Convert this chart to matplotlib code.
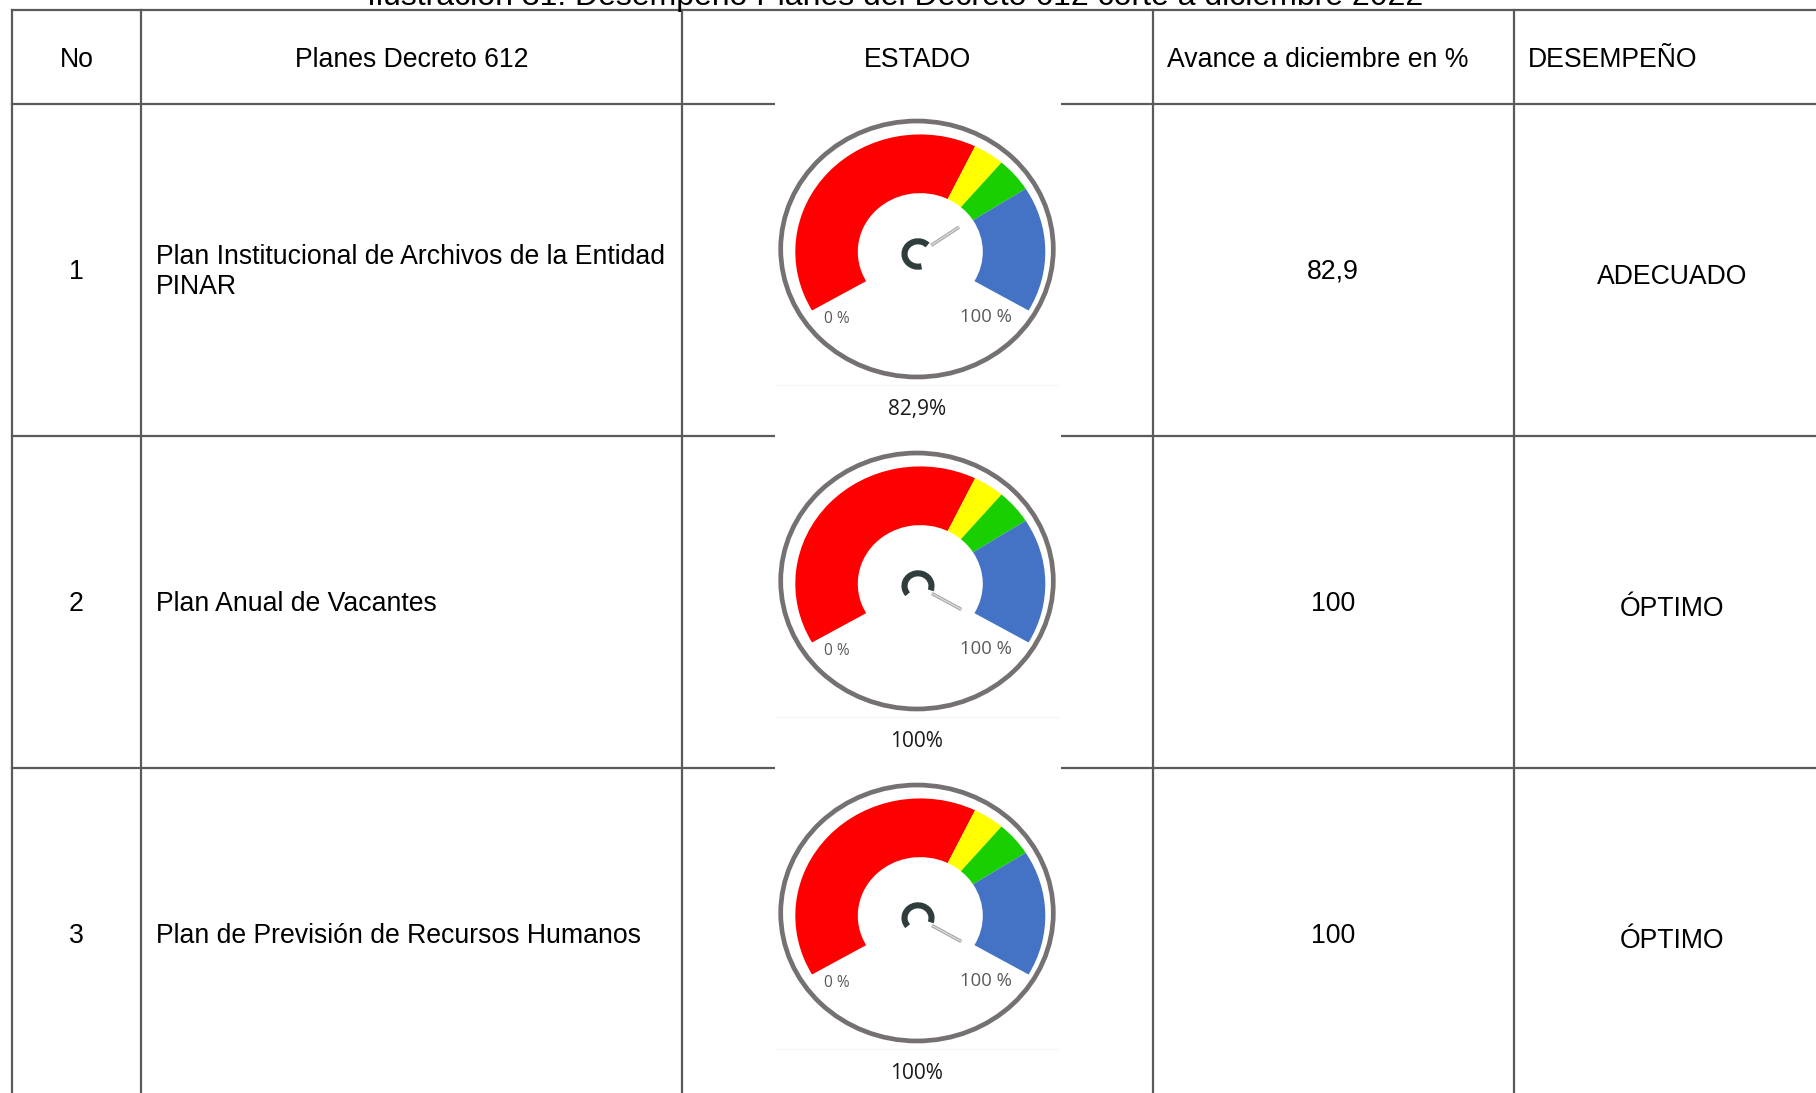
import numpy as np
import matplotlib
matplotlib.use("Agg")
import matplotlib.pyplot as plt
from matplotlib.patches import Wedge, Circle, Arc, Rectangle

# data
title = "Ilustración 31. Desempeño Planes del Decreto 612 corte a diciembre 2022"
headers = ["No", "Planes Decreto 612", "ESTADO", "Avance a diciembre en %", "DESEMPEÑO"]
plan_no = ["1", "2", "3"]
plans = ["Plan Institucional de Archivos de la Entidad\nPINAR",
         "Plan Anual de Vacantes",
         "Plan de Previsión de Recursos Humanos"]
avance = [82.9, 100, 100]
desempeno = ["ADECUADO", "ÓPTIMO", "ÓPTIMO"]

# dial bands (value limits) and their colours
band_limits = [0, 60, 70, 85, 100]
band_colors = ["#FF0000", "#FFFF00", "#19CF00", "#4472C4"]
# where each limit sits on the dial, degrees
band_angles = [210, 64, 49.5, 32.5, -30]

W, H = 1816, 1093
fig = plt.figure(figsize=(W / 100, H / 100), dpi=100)
ax = fig.add_axes([0, 0, 1, 1])
ax.set_xlim(0, W)
ax.set_ylim(H, 0)
ax.set_axis_off()

FONT = "Liberation Sans"
FS = 19.2
LINE = "#5a5a5a"
LW = 1.6

col_x = [12, 141, 682, 1153, 1514]
head_top, head_bot = 10, 103.5
row_h = 332

def fmt(v):
    return ("%g" % v).replace(".", ",")

# title (cut at the top of the picture, as in the source)
ax.text(895, 5, title, ha="center", va="baseline", fontsize=23, family=FONT)

# grid
ax.plot([12, W], [head_top, head_top], color=LINE, lw=LW, zorder=2)
for i in range(3):
    y = head_bot + i * row_h
    ax.plot([12, W], [y, y], color=LINE, lw=LW, zorder=2)
for x in col_x:
    ax.plot([x, x], [head_top, H], color=LINE, lw=LW, zorder=2)

# white picture area of the gauges covers the grid lines
ax.add_patch(Rectangle((775, 101.5), 286, H - 101.5, facecolor="white",
                       edgecolor="none", zorder=3))

# headers
hb = 67
ax.text(76.5, hb, headers[0], ha="center", va="baseline", fontsize=FS, family=FONT)
ax.text(411.5, hb, headers[1], ha="center", va="baseline", fontsize=FS, family=FONT)
ax.text(917.5, hb, headers[2], ha="center", va="baseline", fontsize=FS, family=FONT)
ax.text(1167, hb, headers[3], ha="left", va="baseline", fontsize=FS, family=FONT)
ax.text(1528, hb, headers[4], ha="left", va="baseline", fontsize=FS, family=FONT)

S = 1.065  # the dial pictures are a bit wider than tall
for i in range(3):
    top = head_bot + i * row_h
    base = top + 175.5
    ax.text(76.5, base, plan_no[i], ha="center", va="baseline", fontsize=FS, family=FONT)
    lines = plans[i].split("\n")
    for k, ln in enumerate(lines):
        yb = base + (k - (len(lines) - 1) / 2) * 30
        ax.text(156, yb, ln, ha="left", va="baseline", fontsize=FS, family=FONT)
    ax.text(1333, base, fmt(avance[i]), ha="center", va="baseline", fontsize=FS, family=FONT)
    ax.text(1672, base + 5, desempeno[i], ha="center", va="baseline", fontsize=FS, family=FONT)

    # gauge
    gx = fig.add_axes([775 / W, 1 - (top + row_h) / H, 286 / W, row_h / H])
    gx.set_xlim(775 - 917, 1061 - 917)
    gx.set_ylim(-(row_h - 145.5) * S, 145.5 * S)
    gx.set_axis_off()
    c = (3.3, -2.8 * S)
    for k in range(4):
        gx.add_patch(Wedge(c, 125, band_angles[k + 1], band_angles[k], width=62.5,
                           facecolor=band_colors[k], edgecolor="none"))
    gx.add_patch(Circle((0, 0), 136.3, fill=False, edgecolor="#767171", lw=3.4))

    theta = np.interp(avance[i], band_limits, band_angles)
    p = (1.0, -5 * S)
    gx.add_patch(Arc(p, 27, 27, theta1=theta + 10, theta2=theta + 250,
                     color="#2F3D3D", lw=4.4))
    t = np.radians(theta)
    nx = [p[0] + 16 * np.cos(t), p[0] + 50 * np.cos(t)]
    ny = [p[1] + 16 * np.sin(t), p[1] + 50 * np.sin(t)]
    gx.plot(nx, ny, color="#9a9a9a", lw=2.4, solid_capstyle="butt")
    gx.plot(nx, ny, color="#d6d6d6", lw=1.2, solid_capstyle="butt")

    gx.text(-79.7, -74 * S, "0 %", ha="center", va="baseline", fontsize=11.2,
            family="Open Sans", color="#595959")
    gx.text(69.3, -73 * S, "100 %", ha="center", va="baseline", fontsize=13.3,
            family="Open Sans", color="#595959")
    gx.plot([-142, 141], [-136 * S, -136 * S], color="#f5f5f5", lw=0.8)
    gx.text(0, -166 * S, fmt(avance[i]) + "%", ha="center", va="baseline",
            fontsize=15, family="Open Sans", color="#1a1a1a")

fig.savefig("out.png", dpi=100)
